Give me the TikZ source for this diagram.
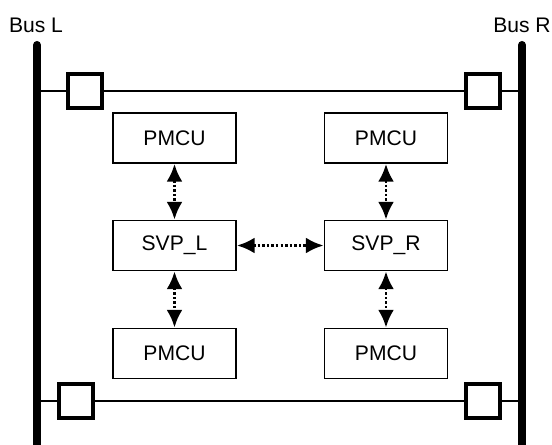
\documentclass[tikz,border=0pt]{standalone}
\usepackage{fontspec}
\setmainfont{Liberation Sans}
\usetikzlibrary{arrows.meta}

\begin{document}
\begin{tikzpicture}[x=0.02cm,y=-0.02cm,
	unit/.style={draw,line width=1.1pt,minimum width=2.46cm,minimum height=1cm,
		inner sep=0pt,font=\fontsize{12}{14}\selectfont},
	sw/.style={draw,line width=2pt,minimum size=0.68cm,inner sep=0pt},
	bus/.style={line width=4.6pt,line cap=round},
	link/.style={line width=1.5pt},
	msg/.style={line width=1.6pt,dash pattern=on 1.4pt off 1.2pt,
		{Latex[length=10pt,width=9pt]}-{Latex[length=10pt,width=9pt]}}]
\useasboundingbox (0,0) rectangle (552,444);

% bus labels
\node[font=\fontsize{12}{14}\selectfont] (labL) at (36,25) {Bus L};
\node[font=\fontsize{12}{14}\selectfont] (labR) at (522,25) {Bus R};

% vertical buses
\coordinate (busLtop) at (37,45);
\coordinate (busLbot) at (37,450);
\coordinate (busRtop) at (522,45);
\coordinate (busRbot) at (522,450);
\draw[bus] (busLtop) -- (busLbot);
\draw[bus] (busRtop) -- (busRbot);

% switches on the cross links
\node[sw] (swTL) at (85,91) {};
\node[sw] (swTR) at (483,91) {};
\node[sw] (swBL) at (76,401) {};
\node[sw] (swBR) at (483,401) {};

% cross links
\draw[link] (swTL.west -| busLtop) -- (swTL) -- (swTR) -- (swTR.east -| busRtop);
\draw[link] (swBL.west -| busLtop) -- (swBL) -- (swBR) -- (swBR.east -| busRtop);

% units
\node[unit] (pmTL) at (174.5,138) {PMCU};
\node[unit] (pmTR) at (386,138) {PMCU};
\node[unit] (svpL) at (174.5,245.5) {SVP\_L};
\node[unit] (svpR) at (386,245.5) {SVP\_R};
\node[unit] (pmBL) at (174.5,353.5) {PMCU};
\node[unit] (pmBR) at (386,353.5) {PMCU};

% dotted links
\draw[msg] (pmTL) -- (svpL);
\draw[msg] (svpL) -- (pmBL);
\draw[msg] (pmTR) -- (svpR);
\draw[msg] (svpR) -- (pmBR);
\draw[msg] (svpL) -- (svpR);

\end{tikzpicture}
\end{document}
